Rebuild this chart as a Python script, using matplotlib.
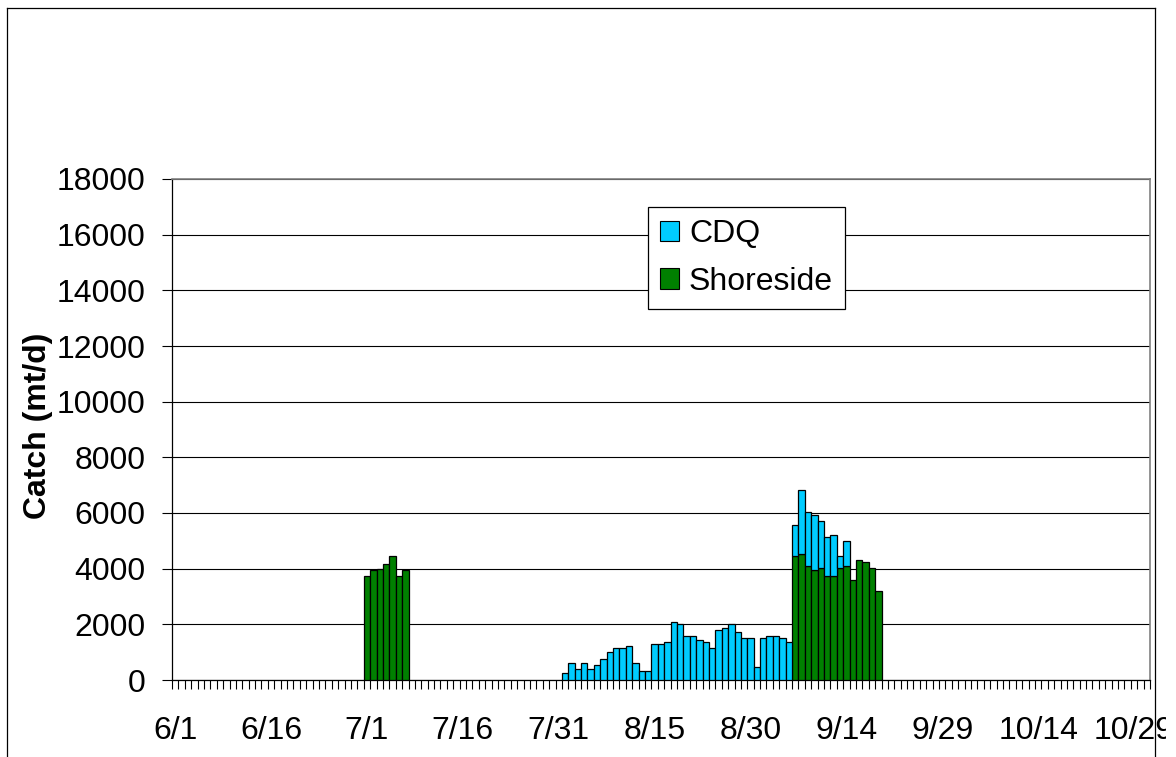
import matplotlib
matplotlib.use('Agg')
import matplotlib.pyplot as plt
import pandas as pd
import numpy as np
from matplotlib.patches import Patch
from matplotlib.lines import Line2D
from matplotlib.transforms import Bbox, TransformedBbox

plt.rcParams['font.family'] = ['Liberation Sans', 'DejaVu Sans']

# one category per day, 6/1 .. 10/31
days = pd.date_range('2000-06-01', '2000-10-31')
day_labels = [f'{d.month}/{d.day}' for d in days]

# shoreside catch (mt/d)
shore_dates = ['7/1', '7/2', '7/3', '7/4', '7/5', '7/6', '7/7',
               '9/6', '9/7', '9/8', '9/9', '9/10', '9/11', '9/12',
               '9/13', '9/14', '9/15', '9/16', '9/17', '9/18', '9/19']
shore_vals = [3740, 3940, 4000, 4160, 4460, 3740, 3940,
              4460, 4530, 4090, 3940, 4010, 3730, 3730,
              4010, 4090, 3580, 4310, 4230, 4010, 3190]

# CDQ catch (mt/d), 8/1 .. 9/14
cdq_dates = [f'8/{d}' for d in range(1, 32)] + [f'9/{d}' for d in range(1, 15)]
cdq_vals = [240, 600, 380, 600, 380, 530, 740, 1000, 1140, 1140,
            1210, 600, 310, 310, 1280, 1280, 1360, 2070, 2000, 1570,
            1570, 1430, 1360, 1140, 1790, 1860, 2000, 1710, 1500, 1500,
            460, 1500, 1570, 1570, 1500, 1360, 1110, 2290, 1930, 2000,
            1700, 1400, 1470, 430, 900]

shore = pd.Series(0.0, index=day_labels)
shore[shore_dates] = shore_vals
cdq = pd.Series(0.0, index=day_labels)
cdq[cdq_dates] = cdq_vals

W, H = 1176, 757
fig = plt.figure(figsize=(W / 100, H / 100), dpi=100)
ax = fig.add_axes([172 / W, 1 - 680 / H, (1150 - 172) / W, (680 - 179) / H])

x = np.arange(len(day_labels)) + 0.5
has_shore = shore.values > 0
has_cdq = cdq.values > 0
ax.bar(x[has_shore], shore.values[has_shore], width=1, color='#008000',
       edgecolor='black', linewidth=0.9, zorder=3)
ax.bar(x[has_cdq], cdq.values[has_cdq], bottom=shore.values[has_cdq], width=1,
       color='#00CCFF', edgecolor='black', linewidth=0.9, zorder=3)

ax.set_xlim(0, len(day_labels))
ax.set_ylim(0, 18000)
ax.set_yticks(range(0, 18001, 2000))
ax.grid(axis='y', color='black', linewidth=0.8, zorder=0)

# labels every 15 days at category centres, ticks at every category boundary
lab_idx = list(range(0, len(day_labels), 15))
ax.set_xticks([i + 0.5 for i in lab_idx])
ax.set_xticklabels([day_labels[i] for i in lab_idx])
ax.set_xticks(np.arange(0, len(day_labels) + 1), minor=True)
ax.tick_params(axis='x', which='major', length=0, pad=26, labelsize=23)
ax.tick_params(axis='x', which='minor', length=6.5, width=0.8, direction='out')
ax.tick_params(axis='y', length=7, width=0.8, pad=12, labelsize=23)

# the last date label runs off the chart and is cut in the original
clip = TransformedBbox(Bbox([[0, 0], [1166 / W, 1]]), fig.transFigure)
for t in ax.get_xticklabels():
    t.set_clip_box(clip)
    t.set_clip_on(True)

for s in ['top', 'right']:
    ax.spines[s].set_color('#808080')
    ax.spines[s].set_linewidth(1.2)
for s in ['left', 'bottom']:
    ax.spines[s].set_color('black')
    ax.spines[s].set_linewidth(0.9)

ax.set_ylabel('Catch (mt/d)', fontsize=23, fontweight='bold')
ax.yaxis.set_label_coords(-0.122, 0.507)

handles = [Patch(facecolor='#00CCFF', edgecolor='black', linewidth=0.8),
           Patch(facecolor='#008000', edgecolor='black', linewidth=0.8)]
leg = fig.legend(handles, ['CDQ', 'Shoreside'], loc='upper left',
                 bbox_to_anchor=(648 / W, 1 - 207 / H), borderaxespad=0,
                 fontsize=23, handlelength=0.6, handleheight=0.6,
                 handletextpad=0.3, labelspacing=0.55, borderpad=0.38,
                 fancybox=False, framealpha=1, edgecolor='black')
leg.get_frame().set_linewidth(0.9)

# outer chart border
fig.add_artist(Line2D([7 / W, 7 / W], [0, 1 - 8 / H], color='black', lw=0.9))
fig.add_artist(Line2D([7 / W, 1154.5 / W], [1 - 8 / H, 1 - 8 / H], color='black', lw=0.9))
fig.add_artist(Line2D([1154.5 / W, 1154.5 / W], [0, 1 - 8 / H], color='black', lw=0.9))

fig.savefig('out.png', dpi=100)
